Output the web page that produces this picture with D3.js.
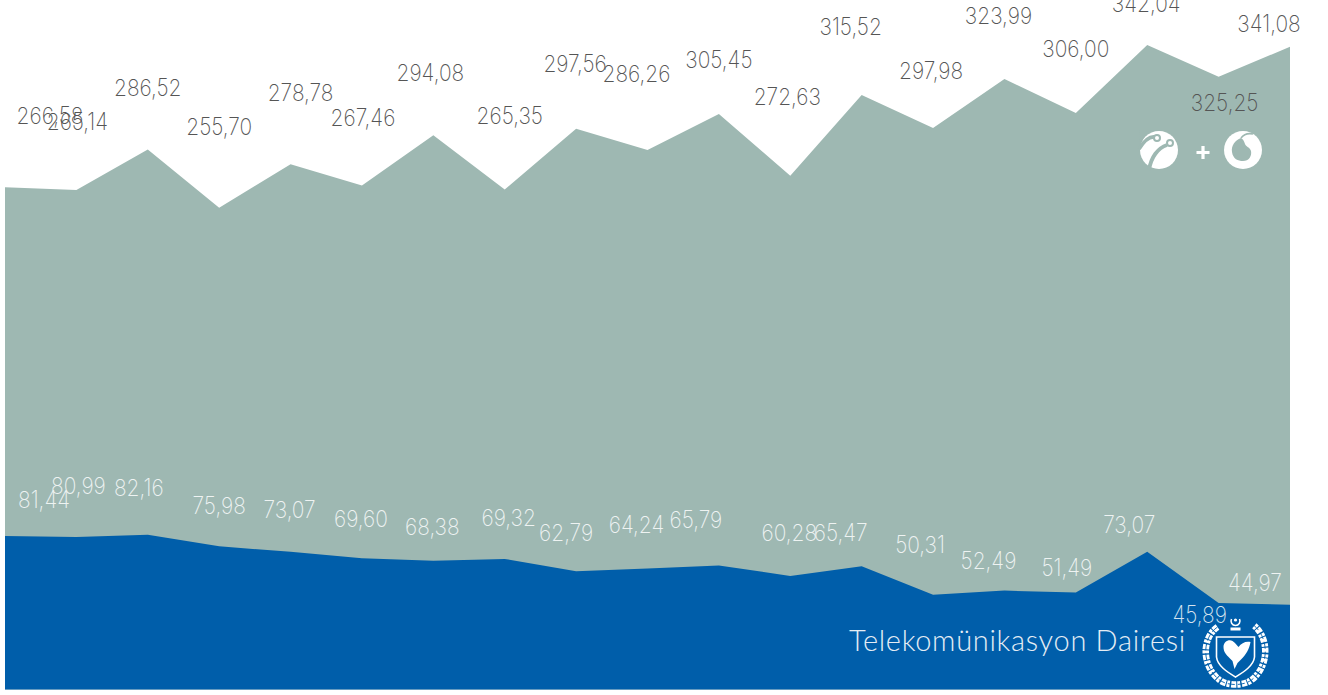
<!DOCTYPE html>
<html><head><meta charset="utf-8">
<script src="https://cdn.jsdelivr.net/npm/d3@7"></script>
<style>html,body{margin:0;padding:0;background:#fff;overflow:hidden}svg{display:block}</style></head>
<body><svg id="c" width="1328" height="695"></svg>
<script>
const periods = d3.range(19);
const mobileValues = [266.58,265.14,286.52,255.70,278.78,267.46,294.08,265.35,297.56,286.26,305.45,272.63,315.52,297.98,323.99,306.00,342.04,325.25,341.08];
const fixedValues = [81.44,80.99,82.16,75.98,73.07,69.60,68.38,69.32,62.79,64.24,65.79,60.28,65.47,50.31,52.49,51.49,73.07,45.89,44.97];
const titleGlyphs = ['(',',','g','g',',','g','y','g',',','y'];
const companyLabel = 'Telekomünikasyon Dairesi';
// label nudges relative to each data point (centre x, baseline y)
const mobileLabelDx = [45,1,0,0,10,1,-3,5,-1,-11,0,-3,-11,-2,-6,0,-1,6,-21];
const mobileLabelDy = [-63,-60,-54,-73,-63,-60,-54,-66,-57,-68,-46,-71,-60,-49,-55,-56,-33,34,-15];
const fixedLabelDx = [39,2,-9,0,-1,-1,-1,4,-10,-11,-23,-1,-21,-13,-16,-9,-18,-19,-35];
const fixedLabelDy = [-28,-43,-39,-32,-34,-31,-26,-33,-30,-35,-38,-35,-25,-42,-22,-16,-19,20,-14];
const titleX = [18,115,186,292,430,620,635,758,785,862];
const fmt = v => v.toFixed(2).replace('.', ',');

const x = d3.scaleLinear().domain([0,18]).range([5,1290]);
const y = d3.scaleLinear().domain([0,342.04]).range([689.5,45]);
const svg = d3.select('#c');
const area = d3.area().x((d,i)=>x(i)).y0(y(0)).y1(d=>y(d));
const TEAL='#9eb8b2', BLUE='#005eaa';
svg.append('path').attr('d',area(mobileValues)).attr('fill',TEAL);
svg.append('path').attr('d',area(fixedValues)).attr('fill',BLUE);

const numFont = "Inter, Lato, sans-serif";
function labels(values,dx,dy,fill){
  svg.append('g').selectAll('text').data(values).join('text')
    .attr('transform',(d,i)=>`translate(${x(i)+dx[i]},${y(d)+dy[i]}) scale(0.89,1)`)
    .attr('text-anchor','middle').attr('font-family',numFont).attr('font-weight',200)
    .attr('font-size',23.5).attr('fill',fill).text(fmt);
}
labels(mobileValues,mobileLabelDx,mobileLabelDy,'#555');
labels(fixedValues,fixedLabelDx,fixedLabelDy,(d,i)=>i===17?'#d5e3ef':'#eef3f2');

// title: only the descenders survive at the top edge of the picture
svg.append('g').selectAll('text').data(titleGlyphs).join('text')
  .attr('x',(d,i)=>titleX[i]).attr('y',-5).attr('text-anchor','middle')
  .attr('font-family','Lato, sans-serif').attr('font-size',30).attr('fill','#222').text(d=>d);

svg.append('text').attr('x',849).attr('y',651).attr('font-family','Lato, sans-serif').attr('font-weight',300)
  .attr('font-size',29).attr('letter-spacing',0.7).attr('fill','#e4edf5').text(companyLabel);

// Turkcell mark
const tk=svg.append('g').attr('transform','translate(1159,150)');
tk.append('circle').attr('r',19).attr('fill','#fff');
tk.append('path').attr('d','M-20,-1 C-15,-9 -10,-14 -4,-13').attr('fill','none').attr('stroke',TEAL).attr('stroke-width',3.6);
tk.append('path').attr('d','M-10,20 C-8,7 -1,-2 8,-5').attr('fill','none').attr('stroke',TEAL).attr('stroke-width',3.8);
tk.append('path').attr('d','M-19,-5 L-12,-20 L-20,-20Z').attr('fill',TEAL);
tk.append('circle').attr('cx',-2).attr('cy',-12).attr('r',3).attr('fill','#fff').attr('stroke',TEAL).attr('stroke-width',2);
tk.append('circle').attr('cx',11).attr('cy',-7).attr('r',3).attr('fill','#fff').attr('stroke',TEAL).attr('stroke-width',2);
// plus
svg.append('path').attr('d','M1203,146V159M1196.5,152.5H1209.5').attr('stroke','#fff').attr('stroke-width',3.2).attr('fill','none');
// Vodafone mark
const vf=svg.append('g').attr('transform','translate(1243,150)');
vf.append('circle').attr('r',19).attr('fill','#fff');
vf.append('path').attr('d','M-2,-12 C-8,-10 -12,-4 -11,2 C-10,9 -5,11 0,11 C6,11 9,6 8,1 C7,-3 3,-3 2,-6 C1,-9 0,-11 -2,-12Z').attr('fill',TEAL);
vf.append('path').attr('d','M-2,-12 C1,-16 5,-17 10,-16').attr('fill','none').attr('stroke',TEAL).attr('stroke-width',1.6);

// emblem
const em=svg.append('g').attr('transform','translate(1235.5,652)');
const wreath='M-18,-25 C-34,-14 -34,14 -16,28 C-8,34 8,34 16,28 C34,14 34,-14 18,-27';
em.append('path').attr('d',wreath).attr('fill','none').attr('stroke','#fff').attr('stroke-width',6.5).attr('stroke-dasharray','5 1 3 1.5');
em.append('path').attr('d',wreath).attr('fill','none').attr('stroke',BLUE).attr('stroke-width',0.9).attr('stroke-dasharray','7 3');
em.append('path').attr('d','M-19,-15 H19 V5 C18,14 8,20 0,25 C-8,20 -18,14 -19,5Z').attr('fill','none').attr('stroke','#fff').attr('stroke-width',1.6);
em.append('path').attr('d','M-3,-11 C-7,-13 -12,-10 -12,-5 C-12,0 -9,3 -6,6 L-3,9 L-1,17 L2,11 L6,7 C10,3 14,-3 15,-10 C10,-11 6,-9 3,-5 C1,-7 0,-9 -3,-11Z').attr('fill','#fff');
em.append('path').attr('d','M-4,-33 A4.5,4.5 0 1,0 4,-33').attr('fill','none').attr('stroke','#fff').attr('stroke-width',1.6);
em.append('circle').attr('cy',-32).attr('r',1.6).attr('fill','#fff');
em.append('rect').attr('x',-5).attr('y',-24.5).attr('width',10).attr('height',3).attr('fill','#fff');
</script></body></html>
